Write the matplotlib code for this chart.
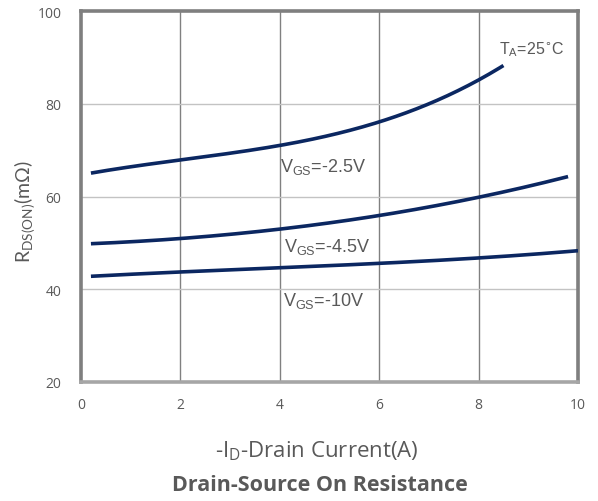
import matplotlib
matplotlib.use("Agg")
import matplotlib.pyplot as plt
import numpy as np

# drain current (A) and on-resistance (mOhm) per gate voltage
id_25 = [0.2, 1, 2, 3, 4, 5, 6, 7, 8, 8.5]
rds_25 = [65.1, 66.4, 67.7, 69.4, 71.1, 73.3, 75.9, 80.1, 84.9, 88.4]

id_45 = [0.2, 1, 2, 3, 4, 5, 6, 7, 8, 9, 9.8]
rds_45 = [49.8, 50.3, 50.9, 51.8, 53.0, 54.3, 55.9, 57.8, 59.9, 62.0, 64.4]

id_10 = [0.2, 2, 4, 6, 8, 10]
rds_10 = [42.8, 43.7, 44.7, 45.5, 46.8, 48.3]

labels = [r"V$_{\mathregular{GS}}$=-2.5V", r"V$_{\mathregular{GS}}$=-4.5V", r"V$_{\mathregular{GS}}$=-10V"]
label_pos = [(4.0, 66.6), (4.08, 49.4), (4.06, 37.7)]

xticks = [0, 2, 4, 6, 8, 10]
yticks = [20, 40, 60, 80, 100]

navy = "#0b2761"
grey_txt = "#595959"

fig = plt.figure(figsize=(5.98, 5.02), dpi=100)
ax = fig.add_axes([81/598, 1 - 383/502, 497/598, 371/502])

for x, y in [(id_25, rds_25), (id_45, rds_45), (id_10, rds_10)]:
    # smooth curve through the read points
    xs = np.linspace(x[0], x[-1], 200)
    c = np.polyfit(x, y, 3)
    ax.plot(xs, np.polyval(c, xs), color=navy, lw=2.6, solid_capstyle="butt", zorder=3)

for txt, (tx, ty) in zip(labels, label_pos):
    ax.text(tx, ty, txt, fontsize=13, family="Liberation Sans", color=grey_txt,
            ha="left", va="center")
ax.text(8.42, 91.8, r"T$_{\mathregular{A}}$=25$^{\circ}$C", fontsize=11.5,
        family="Liberation Sans", color=grey_txt, ha="left", va="center")

ax.set_xlim(0, 10)
ax.set_ylim(20, 100)
ax.set_xticks(xticks)
ax.set_yticks(yticks)
ax.tick_params(length=0, labelsize=10, labelcolor=grey_txt, pad=14)
ax.tick_params(axis="x", pad=11)
for lab in ax.get_xticklabels() + ax.get_yticklabels():
    lab.set_family("Open Sans")

for xv in xticks[1:-1]:
    ax.axvline(xv, color="#808080", lw=1.0, zorder=1)
for yv in yticks[1:-1]:
    ax.axhline(yv, color="#c3c3c3", lw=1.0, zorder=1)

for s in ax.spines.values():
    s.set_color("#7f7f7f")
    s.set_linewidth(2.6)
ax.spines["bottom"].set_color("#a6a6a6")

fig.text(25/598, 1 - 212/502, r"R$_{\mathregular{DS(ON)}}$(m$\mathregular{\Omega}$)",
         rotation=90, fontsize=14, family="Lato", color=grey_txt, ha="center", va="center")
fig.text(317/598, 1 - 451/502, r"-I$_{\mathregular{D}}$-Drain Current(A)",
         fontsize=16, family="Open Sans", color=grey_txt, ha="center", va="center")
fig.text(320/598, 1 - 486/502, "Drain-Source On Resistance", fontsize=15.5,
         family="Open Sans", weight="bold", color=grey_txt, ha="center", va="center")

fig.savefig("out.png", dpi=100)
